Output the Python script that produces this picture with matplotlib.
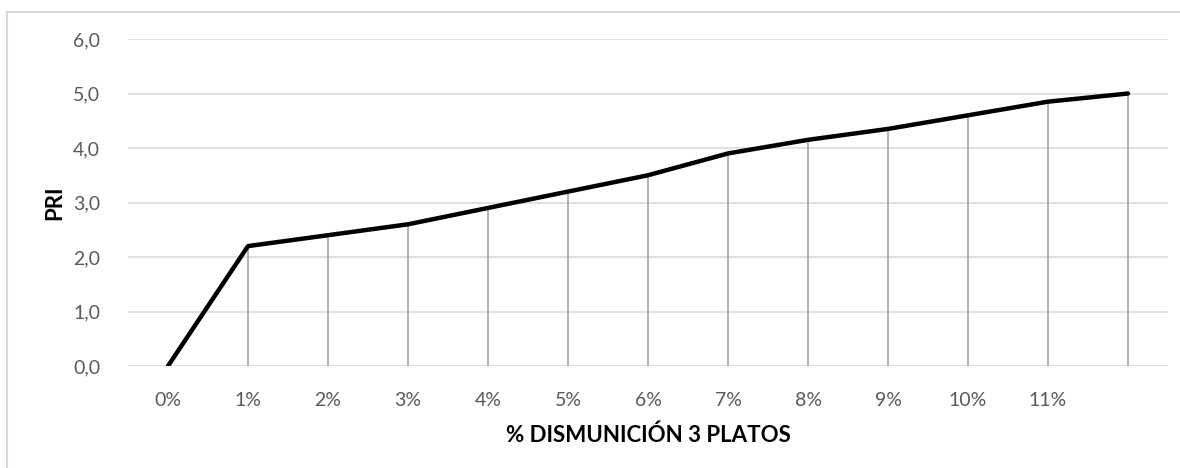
import matplotlib
matplotlib.use("Agg")
import matplotlib.pyplot as plt
from matplotlib.patches import Rectangle
from matplotlib.ticker import FuncFormatter

# % reduction categories (the last point has no label)
categories = ["0%", "1%", "2%", "3%", "4%", "5%", "6%", "7%", "8%", "9%", "10%", "11%", ""]
pri = [0.0, 2.2, 2.4, 2.6, 2.9, 3.2, 3.5, 3.9, 4.15, 4.35, 4.6, 4.85, 5.0]
y_ticks = [0, 1, 2, 3, 4, 5, 6]

plt.rcParams["font.family"] = ["Lato", "DejaVu Sans"]

fig = plt.figure(figsize=(11.8, 4.68), dpi=100)
ax = fig.add_axes([128 / 1180, 1 - 366 / 468, 1040 / 1180, 327 / 468])

x = list(range(len(categories)))

# grid lines
for t in y_ticks:
    ax.axhline(t, color="#d9d9d9", lw=1.1, zorder=1)

# drop lines from each point down to zero
ax.vlines(x, 0, pri, color="#a6a6a6", lw=1.2, zorder=2)

ax.plot(x, pri, color="black", lw=3.2, solid_capstyle="round", zorder=3)

ax.set_xlim(-0.5, len(categories) - 0.5)
ax.set_ylim(0, 6)
ax.set_xticks(x)
ax.set_xticklabels(categories)
ax.set_yticks(y_ticks)
ax.yaxis.set_major_formatter(FuncFormatter(lambda v, p: f"{v:.1f}".replace(".", ",")))
ax.tick_params(length=0, labelsize=14, labelcolor="#595959")
ax.tick_params(axis="x", pad=19)
ax.tick_params(axis="y", pad=20)
for s in ax.spines.values():
    s.set_visible(False)

ax.set_xlabel("% DISMUNICIÓN 3 PLATOS", fontsize=16, fontweight="bold", labelpad=11)
ax.set_ylabel("PRI", fontsize=16, fontweight="bold", labelpad=6)

# chart border
fig.patches.append(Rectangle((7 / 1180, -0.05), 1.1, 1 - 12 / 468 + 0.05,
                             transform=fig.transFigure, fill=False,
                             edgecolor="#d9d9d9", lw=1.5))

fig.savefig("out.png", dpi=100)
